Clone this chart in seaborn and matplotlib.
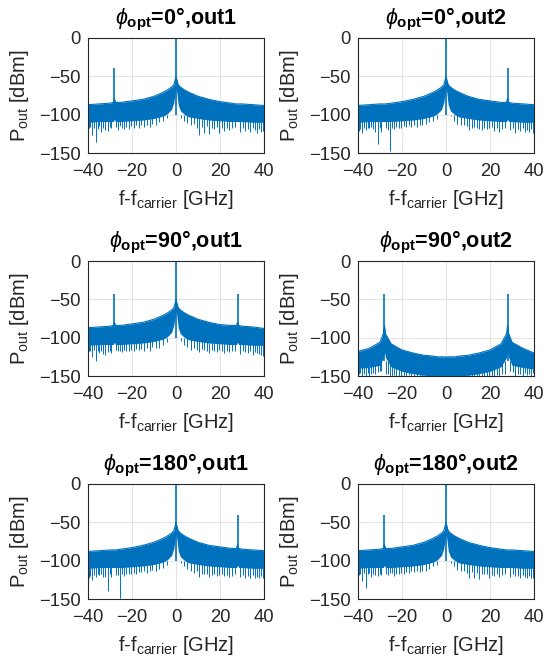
import numpy as np
import seaborn as sns
import matplotlib.pyplot as plt

# -----------------------------
# Data (dBm vs. GHz offset)
# -----------------------------
freq_env = [-40, -35, -30, -28.5, -28, -27.5, -25, -20, -15, -10, -6, -4, -2, -1, -0.4, 0,
            0.4, 1, 2, 4, 6, 10, 15, 20, 25, 27.5, 28, 28.5, 30, 35, 40]

titles = [r"$\phi_{\mathbf{opt}}$=0°,out1", r"$\phi_{\mathbf{opt}}$=0°,out2",
          r"$\phi_{\mathbf{opt}}$=90°,out1", r"$\phi_{\mathbf{opt}}$=90°,out2",
          r"$\phi_{\mathbf{opt}}$=180°,out1", r"$\phi_{\mathbf{opt}}$=180°,out2"]

# noise band, upper / lower edge
upper_0_out1 = [-87, -86, -85, -84, -79, -84, -84, -82, -80, -76, -71, -68, -64, -61, -55, -50,
                -55, -61, -64, -68, -71, -76, -80, -83, -85, -86, -86, -86, -86, -87, -88]
lower_0_out1 = [-110, -109, -109, -109, -106, -109, -109, -108, -107, -105, -102, -99, -93, -84, -72, -65,
                -72, -87, -95, -100, -103, -105, -107, -108, -109, -109, -109, -109, -109, -110, -110]
upper_0_out2 = [-88, -87, -86, -86, -86, -86, -85, -83, -80, -76, -71, -68, -64, -61, -55, -50,
                -55, -61, -64, -68, -71, -76, -80, -82, -84, -84, -79, -84, -85, -86, -87]
lower_0_out2 = [-110, -109, -109, -109, -109, -109, -109, -108, -107, -105, -102, -99, -93, -84, -72, -65,
                -72, -87, -95, -100, -103, -105, -107, -108, -109, -109, -106, -109, -109, -110, -110]
upper_90_out1 = [-87, -86, -85, -84, -80, -84, -84, -82, -80, -76, -71, -68, -64, -61, -55, -50,
                 -55, -61, -64, -68, -71, -76, -80, -83, -84, -84, -80, -84, -85, -86, -88]
lower_90_out1 = [-110, -109, -109, -109, -106, -109, -109, -108, -107, -105, -102, -99, -93, -84, -72, -65,
                 -72, -87, -95, -100, -103, -105, -107, -108, -109, -109, -106, -109, -109, -110, -110]
upper_90_out2 = [-118, -114, -106, -95, -84, -95, -108, -116, -120, -123, -124, -125, -125, -125, -125, -126,
                 -125, -125, -125, -125, -124, -123, -120, -116, -108, -95, -84, -95, -106, -114, -120]
lower_90_out2 = [-140, -139, -136, -126, -118, -126, -138, -144, -147, -149, -150, -150, -150, -150, -150, -150,
                 -150, -150, -150, -150, -150, -149, -147, -144, -138, -126, -118, -126, -136, -139, -141]
upper_180_out1 = [-88, -87, -86, -86, -86, -86, -85, -83, -80, -76, -71, -68, -64, -61, -55, -50,
                  -55, -61, -64, -68, -71, -76, -80, -82, -84, -84, -79, -84, -85, -86, -87]
lower_180_out1 = [-110, -109, -109, -109, -109, -109, -109, -108, -107, -105, -102, -99, -93, -84, -72, -65,
                  -72, -87, -95, -100, -103, -105, -107, -108, -109, -109, -106, -109, -109, -110, -110]
upper_180_out2 = [-87, -86, -85, -84, -79, -84, -84, -82, -80, -76, -71, -68, -64, -61, -55, -50,
                  -55, -61, -64, -68, -71, -76, -80, -83, -85, -86, -86, -86, -86, -87, -88]
lower_180_out2 = [-110, -109, -109, -109, -106, -109, -109, -108, -107, -105, -102, -99, -93, -84, -72, -65,
                  -72, -87, -95, -100, -103, -105, -107, -108, -109, -109, -109, -109, -109, -110, -110]

# spectral lines: position [GHz] and peak [dBm]
lines_f_0_out1 = [0, -28]
lines_p_0_out1 = [0, -39]
lines_f_0_out2 = [0, 28]
lines_p_0_out2 = [0, -39]
lines_f_90_out1 = [0, -28, 28]
lines_p_90_out1 = [0, -43, -43]
lines_f_90_out2 = [-28, 28]
lines_p_90_out2 = [-43, -43]
lines_f_180_out1 = [0, 28]
lines_p_180_out1 = [0, -40]
lines_f_180_out2 = [0, -28]
lines_p_180_out2 = [0, -40]

# downward noise spikes: positions [GHz] and per-panel depth [dBm]
dip_freq = [-39.7, -39.0, -38.2, -37.5, -36.3, -35.6, -34.8, -33.9, -33.1, -32.2, -31.0, -30.2, -29.4,
            -27.1, -26.3, -25.6, -24.5, -23.6, -22.7, -21.5, -20.4, -19.3, -18.1, -17.0, -15.8, -14.6,
            -13.3, -12.0, -10.7, -9.2, -7.6, -5.9, -4.1, -2.6,
            2.4, 3.7, 5.1, 6.6, 8.0, 9.5, 10.4, 11.6, 12.7, 13.9, 15.1, 16.2, 17.4, 18.6, 19.7, 20.8,
            22.0, 23.1, 24.3, 25.4, 26.6, 29.3, 30.4, 31.5, 32.6, 33.7, 34.8, 35.9, 36.8, 37.7, 38.6, 39.6]

dips_0_out1 = [-118, -116, -127, -117, -135, -119, -115, -122, -117, -120, -121, -116, -118,
               -116, -120, -115, -117, -119, -116, -119, -115, -118, -114, -117, -113, -116,
               -113, -116, -112, -114, -110, -108, -104, -100,
               -104, -108, -111, -114, -112, -117, -126, -116, -124, -115, -125, -117, -119, -116, -124, -118,
               -121, -117, -120, -118, -116, -122, -117, -121, -119, -123, -118, -120, -124, -119, -123, -121]
dips_0_out2 = [-121, -119, -124, -118, -120, -117, -118, -116, -119, -122, -138, -117, -122,
               -118, -120, -148, -117, -119, -116, -117, -118, -115, -116, -114, -116, -113,
               -116, -113, -113, -112, -110, -108, -105, -100,
               -102, -108, -112, -114, -113, -115, -120, -118, -116, -117, -119, -120, -117, -119, -118, -116,
               -121, -118, -122, -119, -117, -120, -118, -124, -119, -121, -118, -123, -120, -122, -119, -124]
dips_90_out1 = [-118, -117, -125, -116, -131, -118, -120, -117, -121, -122, -119, -117, -120,
                -116, -117, -118, -119, -116, -118, -117, -116, -118, -115, -116, -115, -117,
                -114, -117, -112, -113, -113, -109, -106, -101,
                -104, -110, -112, -116, -114, -116, -119, -115, -116, -118, -120, -116, -117, -119, -116, -118,
                -120, -117, -119, -118, -117, -121, -118, -119, -120, -118, -122, -119, -120, -121, -123, -124]
dips_90_out2 = [-148, -146, -150, -147, -150, -146, -150, -147, -146, -148, -145, -144, -143,
                -147, -148, -150, -150, -149, -150, -150, -150, -150, -150, -149, -150, -150,
                -150, -150, -150, -150, -150, -150, -150, -150,
                -150, -150, -150, -150, -150, -150, -150, -150, -150, -150, -150, -150, -150, -150, -150, -150,
                -150, -149, -150, -148, -147, -143, -145, -150, -148, -147, -150, -146, -149, -147, -150, -146]
dips_180_out1 = [-122, -120, -125, -119, -121, -118, -119, -117, -121, -121, -139, -118, -121,
                 -119, -119, -149, -118, -120, -117, -118, -117, -116, -117, -115, -115, -114,
                 -116, -113, -112, -113, -111, -109, -105, -101,
                 -103, -107, -111, -113, -116, -114, -121, -117, -117, -118, -121, -119, -118, -120, -119, -117,
                 -120, -119, -121, -120, -118, -121, -119, -123, -120, -122, -119, -122, -121, -123, -120, -123]
dips_180_out2 = [-119, -117, -126, -116, -135, -118, -116, -121, -118, -119, -120, -117, -119,
                 -117, -119, -116, -116, -120, -117, -118, -116, -117, -115, -116, -114, -115,
                 -114, -115, -113, -113, -111, -107, -105, -100,
                 -103, -107, -112, -113, -113, -116, -122, -115, -123, -116, -124, -118, -118, -117, -123, -119,
                 -120, -118, -121, -119, -117, -121, -118, -120, -120, -122, -119, -121, -123, -120, -122, -122]

panels = [
    (upper_0_out1, lower_0_out1, lines_f_0_out1, lines_p_0_out1, dips_0_out1),
    (upper_0_out2, lower_0_out2, lines_f_0_out2, lines_p_0_out2, dips_0_out2),
    (upper_90_out1, lower_90_out1, lines_f_90_out1, lines_p_90_out1, dips_90_out1),
    (upper_90_out2, lower_90_out2, lines_f_90_out2, lines_p_90_out2, dips_90_out2),
    (upper_180_out1, lower_180_out1, lines_f_180_out1, lines_p_180_out1, dips_180_out1),
    (upper_180_out2, lower_180_out2, lines_f_180_out2, lines_p_180_out2, dips_180_out2),
]

# -----------------------------
# Style (MATLAB-like look)
# -----------------------------
sns.set_style("whitegrid")
plt.rcParams['font.family'] = ['Liberation Sans', 'DejaVu Sans']
plt.rcParams['mathtext.fontset'] = 'custom'
plt.rcParams['mathtext.rm'] = 'Liberation Sans'
plt.rcParams['mathtext.it'] = 'Liberation Sans:italic'
plt.rcParams['mathtext.bf'] = 'Liberation Sans:bold'
plt.rcParams['text.color'] = '#000000'

blue = '#0072BD'
W, H = 543, 666
fig = plt.figure(figsize=(W / 100, H / 100), dpi=100)

col_left = [88, 358]
row_bottom = [153, 376, 599]
ax_w, ax_h = 176, 115

for i, (up, lo, lf, lp, dd) in enumerate(panels):
    r, c = divmod(i, 2)
    ax = fig.add_axes([col_left[c] / W, 1 - row_bottom[r] / H, ax_w / W, ax_h / H])

    base = -130 if min(lo) < -145 else -100
    ax.fill_between(freq_env, lo, up, color=blue, lw=0)
    sns.lineplot(x=freq_env, y=up, ax=ax, color=blue, lw=0.8)
    ax.vlines(dip_freq, dd, base, color=blue, lw=0.7)
    ax.vlines(lf, base, lp, color=blue, lw=1.2)

    ax.set_xlim(-40, 40)
    ax.set_ylim(-150, 0)
    ax.set_xticks([-40, -20, 0, 20, 40])
    ax.set_yticks([-150, -100, -50, 0])
    ax.tick_params(direction='in', length=3, labelsize=13.3, colors='#262626')
    ax.tick_params(axis='x', pad=7)
    ax.tick_params(axis='y', pad=5)
    ax.grid(True, color='#e3e3e3', lw=0.8)
    for s in ax.spines.values():
        s.set_linewidth(0.8)
        s.set_color('#262626')
    ax.set_title(titles[i], fontsize=15.5, fontweight='bold', pad=10)
    ax.set_xlabel(r"f-f$_{\mathrm{carrier}}$ [GHz]", fontsize=14.5, labelpad=6)
    ax.set_ylabel(r"P$_{\mathrm{out}}$ [dBm]", fontsize=14.5, labelpad=6)

fig.savefig("out.png", dpi=100)
